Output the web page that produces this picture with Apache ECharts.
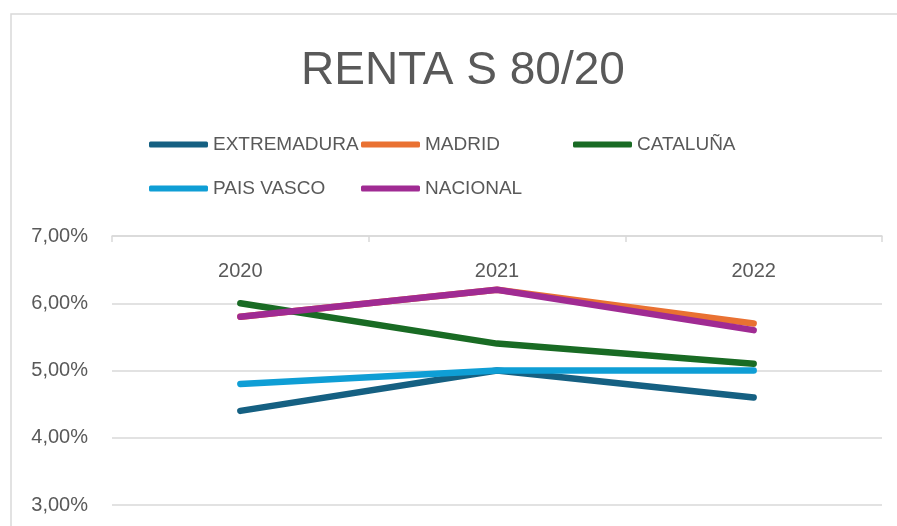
<!DOCTYPE html>
<html>
<head>
<meta charset="utf-8">
<script src="https://cdn.jsdelivr.net/npm/echarts@6/dist/echarts.min.js"></script>
<style>
  html, body { margin: 0; padding: 0; background: #ffffff; }
  #chart { width: 897px; height: 526px; }
</style>
</head>
<body>
<div id="chart"></div>
<script>
  // categories and values (in %)
  var years = ['2020', '2021', '2022'];
  var seriesNames = ['EXTREMADURA', 'MADRID', 'CATALUÑA', 'PAIS VASCO', 'NACIONAL'];
  var extremadura = [4.4, 5.0, 4.6];
  var madrid = [5.8, 6.2, 5.7];
  var cataluna = [6.0, 5.4, 5.1];
  var paisVasco = [4.8, 5.0, 5.0];
  var nacional = [5.8, 6.2, 5.6];
  var colors = ['#156082', '#E97132', '#196B24', '#0F9ED5', '#A02B93'];
  var yTicks = { min: 3, max: 7, step: 1 };

  var allValues = [extremadura, madrid, cataluna, paisVasco, nacional];
  var font = '"Liberation Sans", Arial, sans-serif';

  // legend positions, Excel puts them in a 3 column grid
  var legendPos = [[149, 135], [361, 135], [573, 135], [149, 179], [361, 179]];

  var legends = seriesNames.map(function (name, i) {
    return {
      data: [name],
      left: legendPos[i][0],
      top: legendPos[i][1],
      padding: 0,
      icon: 'roundRect',
      itemWidth: 59,
      itemHeight: 6,
      textStyle: { color: '#595959', fontSize: 19, fontFamily: font }
    };
  });

  var series = seriesNames.map(function (name, i) {
    return {
      name: name,
      type: 'line',
      data: allValues[i],
      symbol: 'none',
      color: colors[i],
      lineStyle: { width: 6.5, cap: 'round', join: 'round' }
    };
  });

  var myChart = echarts.init(document.getElementById('chart'));
  var option = {
    animation: false,
    title: {
      text: 'RENTA S 80/20',
      left: 296,
      top: 43,
      textStyle: { color: '#595959', fontSize: 46, fontWeight: 'normal', fontFamily: font }
    },
    legend: legends,
    graphic: [{
      type: 'rect',
      shape: { x: 11, y: 14, width: 1000, height: 600 },
      style: { fill: 'none', stroke: '#d9d9d9', lineWidth: 1.5 },
      silent: true
    }],
    grid: { left: 112, right: 15, top: 236, bottom: 21 },
    xAxis: {
      type: 'category',
      position: 'top',
      data: years,
      boundaryGap: true,
      axisLine: { lineStyle: { color: '#d9d9d9', width: 1.5 } },
      axisTick: { show: true, inside: true, length: 6, lineStyle: { color: '#d9d9d9', width: 1.5 } },
      axisLabel: { inside: true, margin: 25, color: '#595959', fontSize: 20, fontFamily: font }
    },
    yAxis: {
      type: 'value',
      min: yTicks.min,
      max: yTicks.max,
      interval: yTicks.step,
      axisLine: { show: false },
      axisTick: { show: false },
      splitLine: { lineStyle: { color: '#d9d9d9', width: 1.5 } },
      axisLabel: {
        margin: 24,
        color: '#595959',
        fontSize: 20,
        fontFamily: font,
        formatter: function (v) { return v.toFixed(2).replace('.', ',') + '%'; }
      }
    },
    series: series
  };
  myChart.setOption(option);
</script>
</body>
</html>
